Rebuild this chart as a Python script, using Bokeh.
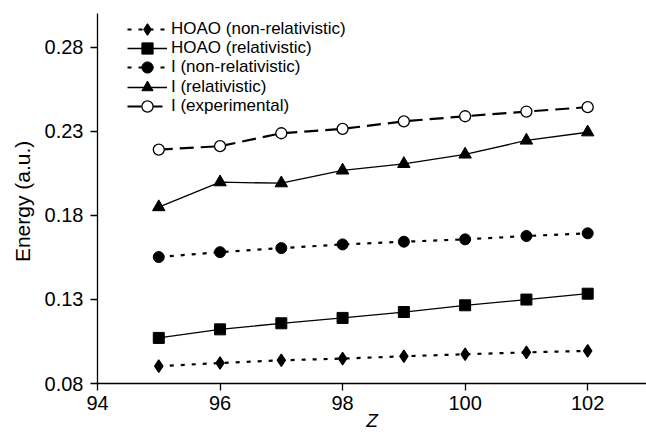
from bokeh.plotting import figure
from bokeh.models import Range1d, FixedTicker, PrintfTickFormatter, Legend, LegendItem
from bokeh.embed import file_html
from bokeh.resources import INLINE

# Atomic number
z = [95, 96, 97, 98, 99, 100, 101, 102]

# Energies (a.u.)
hoao_nonrel = [0.0903, 0.0922, 0.0938, 0.0948, 0.0962, 0.0974, 0.0985, 0.0994]
hoao_rel = [0.1071, 0.1122, 0.1158, 0.1190, 0.1225, 0.1265, 0.1299, 0.1334]
i_nonrel = [0.1552, 0.1581, 0.1605, 0.1627, 0.1643, 0.1657, 0.1677, 0.1693]
i_rel = [0.1849, 0.1997, 0.1991, 0.2067, 0.2106, 0.2162, 0.2245, 0.2294]
i_exp = [0.2191, 0.2211, 0.2288, 0.2314, 0.2359, 0.2389, 0.2417, 0.2443]

x_ticks = [94, 96, 98, 100, 102]
y_ticks = [0.08, 0.13, 0.18, 0.23, 0.28]

labels = [
    "HOAO (non-relativistic)",
    "HOAO (relativistic)",
    "I (non-relativistic)",
    "I (relativistic)",
    "I (experimental)",
]

FONT = "Liberation Sans"

p = figure(
    width=646, height=435,
    output_backend="svg", toolbar_location=None,
    x_range=Range1d(94, 102.96), y_range=Range1d(0.08, 0.30),
    min_border_left=97, min_border_right=0,
    min_border_top=13, min_border_bottom=52,
)
p.outline_line_color = None
p.xgrid.visible = False
p.ygrid.visible = False
p.background_fill_color = "white"
p.border_fill_color = "white"

for ax in (p.xaxis[0], p.yaxis[0]):
    ax.axis_line_color = "black"
    ax.axis_line_width = 1.3
    ax.major_tick_line_color = "black"
    ax.major_tick_line_width = 1.3
    ax.major_tick_in = 0
    ax.major_tick_out = 7
    ax.minor_tick_line_color = None
    ax.major_label_text_font = FONT
    ax.major_label_text_font_size = "20px"
    ax.major_label_text_color = "black"
    ax.axis_label_text_font = FONT
    ax.axis_label_text_color = "black"

p.xaxis.ticker = FixedTicker(ticks=x_ticks)
p.yaxis.ticker = FixedTicker(ticks=y_ticks)
p.yaxis.formatter = PrintfTickFormatter(format="%.2f")
p.xaxis.major_label_standoff = 5
p.yaxis.major_label_standoff = 7

p.yaxis.axis_label = "Energy  (a.u.)"
p.yaxis.axis_label_text_font_style = "normal"
p.yaxis.axis_label_text_font_size = "21px"
p.yaxis.axis_label_standoff = 8

# tight title under the tick labels so the bottom border stays compact
p.xaxis.axis_label = "Z"
p.xaxis.axis_label_text_font_style = "italic"
p.xaxis.axis_label_text_font_size = "19px"
p.xaxis.axis_label_standoff = -3

dot = "4 7"
dash = "14 7"

renderers = []

# HOAO non-relativistic: dotted, diamonds
l1 = p.line(z, hoao_nonrel, line_color="black", line_width=2.2, line_dash=dot)
m1 = p.scatter(z, hoao_nonrel, marker="diamond", size=12.5,
               fill_color="black", line_color="black", line_width=1.2)
renderers.append([l1, m1])

# HOAO relativistic: solid, squares
l2 = p.line(z, hoao_rel, line_color="black", line_width=1.3)
m2 = p.scatter(z, hoao_rel, marker="square", size=11,
               fill_color="black", line_color="black")
renderers.append([l2, m2])

# I non-relativistic: dotted, filled circles
l3 = p.line(z, i_nonrel, line_color="black", line_width=2.2, line_dash=dot)
m3 = p.scatter(z, i_nonrel, marker="circle", size=11,
               fill_color="black", line_color="black")
renderers.append([l3, m3])

# I relativistic: solid, triangles
l4 = p.line(z, i_rel, line_color="black", line_width=1.3)
m4 = p.scatter(z, i_rel, marker="triangle", size=12.5,
               fill_color="black", line_color="black")
renderers.append([l4, m4])

# I experimental: dashed, open circles
l5 = p.line(z, i_exp, line_color="black", line_width=2.2, line_dash=dash)
m5 = p.scatter(z, i_exp, marker="circle", size=11, line_width=1.3,
               fill_color="white", line_color="black")
renderers.append([l5, m5])

# One legend per entry: a tall glyph box keeps the key markers full size,
# while the entries themselves sit on a tighter 19 px pitch.
ROW_PITCH = 19.2
GLYPH_H = 28
first_bottom = 340
for k, (label, rs) in enumerate(zip(labels, renderers)):
    lg = Legend(
        items=[LegendItem(label=label, renderers=rs)],
        location=(30, first_bottom - k * ROW_PITCH),
        margin=0, padding=0, spacing=0,
        glyph_width=40, glyph_height=GLYPH_H, label_height=19,
        label_standoff=4,
        label_text_font=FONT, label_text_font_size="17px", label_text_color="black",
        background_fill_alpha=0, border_line_color=None,
    )
    p.add_layout(lg, "center")

open("out.html", "w").write(file_html(p, INLINE))
